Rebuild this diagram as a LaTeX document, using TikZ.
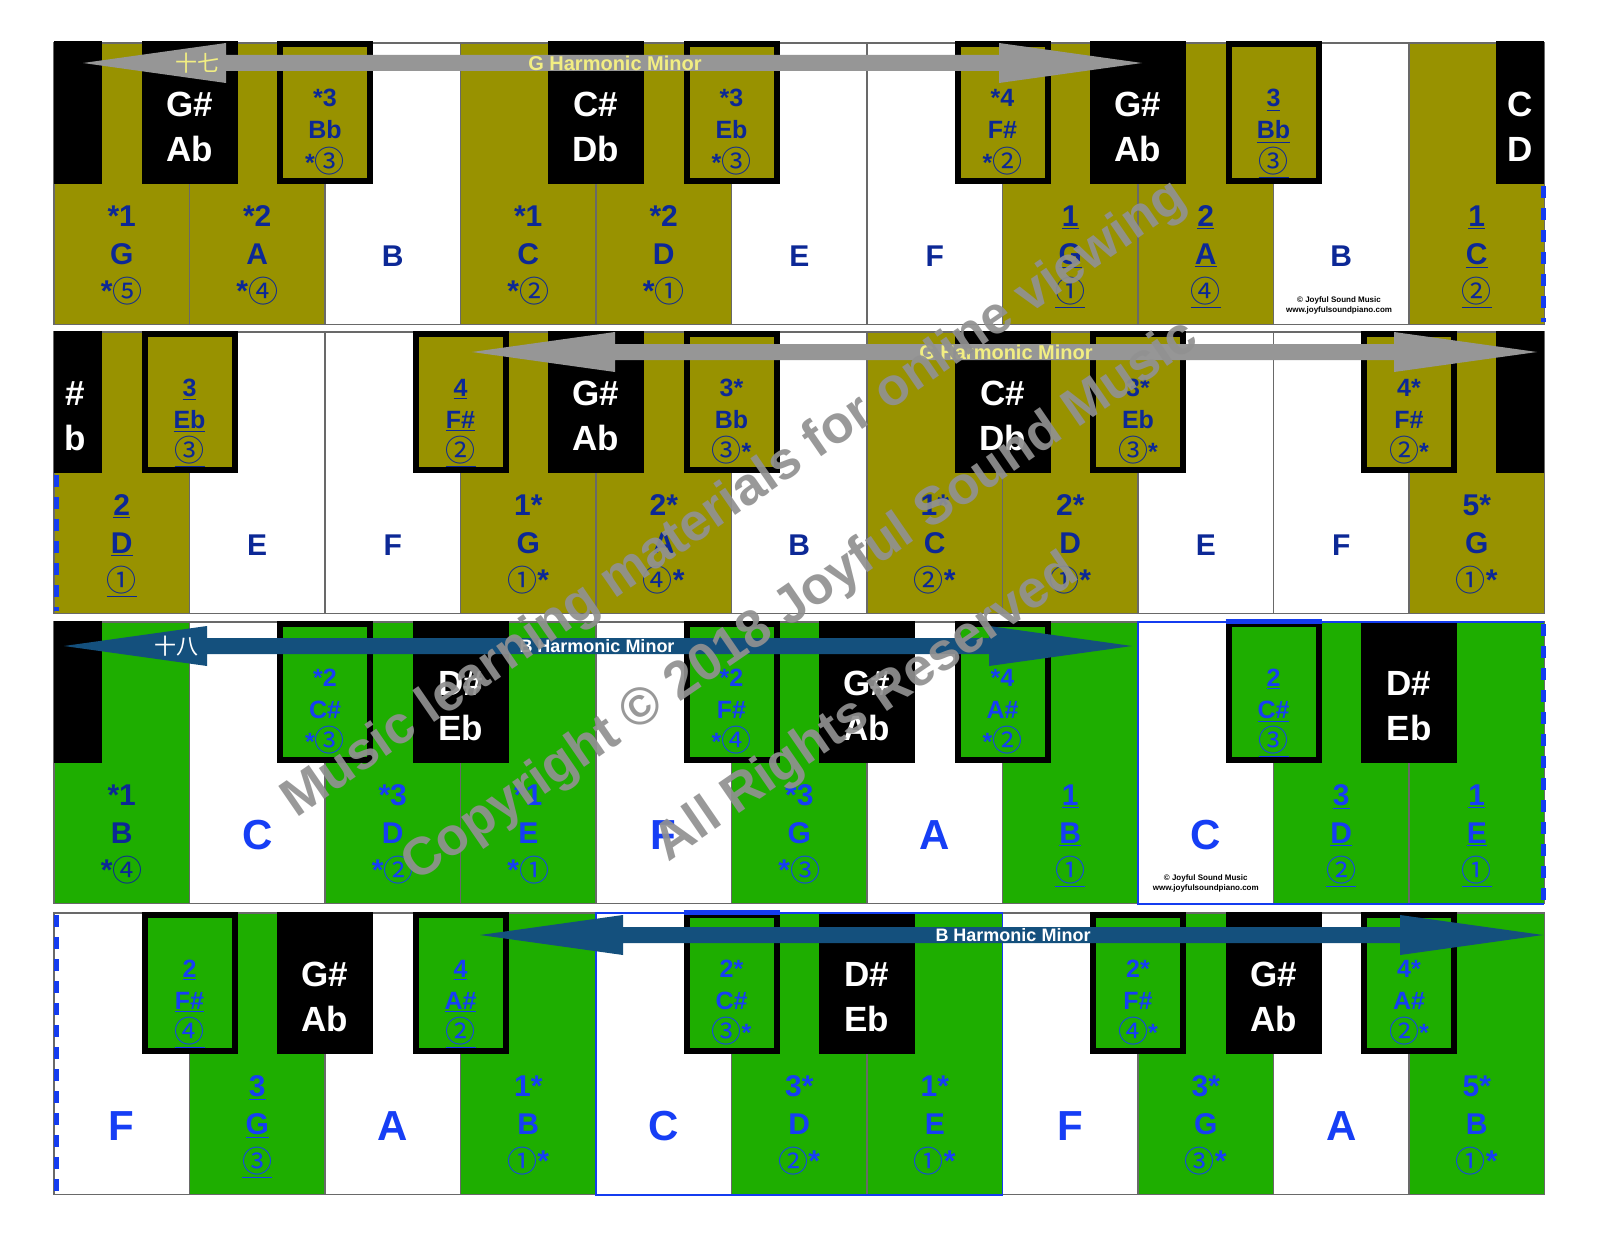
\documentclass[tikz,border=0pt]{standalone}
\usepackage{fontspec}
\setmainfont{Liberation Sans}
\newfontfamily\cfont{Noto Sans CJK SC}
\newfontfamily\cjkf{Noto Sans CJK SC}
\definecolor{olv}{RGB}{152,146,0}
\definecolor{grn}{RGB}{30,174,0}
\definecolor{nav}{RGB}{12,40,150}
\definecolor{bbl}{RGB}{22,62,245}
\definecolor{agr}{RGB}{150,150,150}
\definecolor{abl}{RGB}{20,80,125}
\definecolor{ylw}{RGB}{242,238,130}
\definecolor{kline}{RGB}{105,105,105}
\definecolor{dblue}{RGB}{20,60,240}
\definecolor{wmc}{RGB}{145,145,145}
\newcommand\cd[1]{{\cfont\mdseries\fontsize{15}{15}\selectfont\raisebox{-0.5pt}{#1}}}
\newcommand\pkW[3]{\path[draw=kline, line width=0.9pt, fill=#3] ({54+135.5*#2},#1) rectangle ({54+135.5*(#2+1)},{#1+281.5});}
\newcommand\pkB[2]{\fill[black] ({54+135.5*#2-48},{#1-1.5}) rectangle ({54+135.5*#2+48},{#1+141});}
\newcommand\pkO[3]{\path[fill=#3, draw=black, line width=3pt] ({54+135.5*#2-45},{#1+1.5}) rectangle ({54+135.5*#2+45},{#1+138});}
\newcommand\plW[7]{%
 \node[#4] (#1a) at ({121.75+135.5*#3},{#2+172}) {#5};
 \node[#4] (#1b) at ({121.75+135.5*#3},{#2+210}) {#6};
 \node[#4] (#1c) at ({121.75+135.5*#3},{#2+247}) {#7};}
\newcommand\plS[5]{\node[#4] (#1) at ({121.75+135.5*#3},{#2+212}) {#5};}
\newcommand\plB[5]{%
 \node[bl] (#1a) at ({54+135.5*#3},{#2+61}) {#4};
 \node[bl] (#1b) at ({54+135.5*#3},{#2+106}) {#5};}
\newcommand\plO[7]{%
 \node[#4] (#1a) at ({54+135.5*#3},{#2+55}) {#5};
 \node[#4] (#1b) at ({54+135.5*#3},{#2+87}) {#6};
 \node[#4] (#1c) at ({54+135.5*#3},{#2+119}) {#7};}
\newcommand\pbarr[4]{\fill[#4] (#2,#1) -- ({#2+143},{#1-20}) -- ({#2+143},{#1-8}) -- ({#3-143},{#1-8}) -- ({#3-143},{#1-20}) -- (#3,#1) -- ({#3-143},{#1+20}) -- ({#3-143},{#1+8}) -- ({#2+143},{#1+8}) -- ({#2+143},{#1+20}) -- cycle;}
\tikzset{
 wl/.style={inner sep=0pt, text height=11pt, text depth=0pt, font=\fontsize{15}{15}\selectfont\bfseries, text=nav},
 wlb/.style={wl, text=bbl},
 bl/.style={inner sep=0pt, text height=12.3pt, text depth=0pt, font=\fontsize{17.5}{17.5}\selectfont\bfseries, text=white},
 ol/.style={inner sep=0pt, text height=9pt, text depth=0pt, font=\fontsize{12.5}{12.5}\selectfont\bfseries, text=nav},
 olb/.style={ol, text=bbl},
 big/.style={inner sep=0pt, text height=15pt, text depth=0pt, font=\fontsize{21}{21}\selectfont\bfseries, text=bbl},
 arrt/.style={inner sep=0pt, font=\fontsize{10}{10}\selectfont\bfseries},
 cpy/.style={inner sep=0pt, align=center, font=\fontsize{4}{5}\selectfont\bfseries, text=black},
 dsh/.style={dblue, line width=2.5pt, dash pattern=on 6pt off 5pt},
 wm/.style={inner sep=0pt, rotate=34.5, text=wmc, text opacity=0.92, font=\fontsize{26.5}{26.5}\selectfont\bfseries},
}
\begin{document}
\begin{tikzpicture}[x=0.5pt,y=-0.5pt]
\useasboundingbox (0,0) rectangle (1600,1236);
\fill[white] (0,0) rectangle (1600,1236);
% ---------------- Row 1 ----------------
\foreach \f [count=\i from 0] in {olv,olv,white,olv,olv,white,white,olv,olv,white,olv} {\pkW{43}{\i}{\f}}
\fill[black] (54,41.5) rectangle (102,184);
\pkB{43}{1} \pkO{43}{2}{olv} \pkB{43}{4} \pkO{43}{5}{olv} \pkO{43}{7}{olv} \pkB{43}{8} \pkO{43}{9}{olv}
\fill[black] (1496,41.5) rectangle (1544,184);
\plW{ra0}{43}{0}{wl}{*1}{G}{*\cd{⑤}}
\plW{ra1}{43}{1}{wl}{*2}{A}{*\cd{④}}
\plS{ra2}{43}{2}{wl}{B}
\plW{ra3}{43}{3}{wl}{*1}{C}{*\cd{②}}
\plW{ra4}{43}{4}{wl}{*2}{D}{*\cd{①}}
\plS{ra5}{43}{5}{wl}{E}
\plS{ra6}{43}{6}{wl}{F}
\plW{ra7}{43}{7}{wl}{\underline{1}}{\underline{G}}{\underline{\cd{①}}}
\plW{ra8}{43}{8}{wl}{\underline{2}}{\underline{A}}{\underline{\cd{④}}}
\plS{ra9}{43}{9}{wl}{B}
\plW{ra10}{43}{10}{wl}{\underline{1}}{\underline{C}}{\underline{\cd{②}}}
\plB{rab1}{43}{1}{G\#}{Ab}
\plO{rab2}{43}{2}{ol}{*3}{Bb}{*\cd{③}}
\plB{rab4}{43}{4}{C\#}{Db}
\plO{rab5}{43}{5}{ol}{*3}{Eb}{*\cd{③}}
\plO{rab7}{43}{7}{ol}{*4}{F\#}{*\cd{②}}
\plB{rab8}{43}{8}{G\#}{Ab}
\plO{rab9}{43}{9}{ol}{\underline{3}}{\underline{Bb}}{\underline{\cd{③}}}
\node[bl] (rabr1) at (1520,104) {C};
\node[bl] (rabr2) at (1520,149) {D};
\node[cpy] (cp1) at (1339,305) {© Joyful Sound Music\\www.joyfulsoundpiano.com};
\draw[dsh] (1543,186) -- (1543,322);
% ---------------- Row 2 ----------------
\foreach \f [count=\i from 0] in {olv,white,white,olv,olv,white,olv,olv,white,white,olv} {\pkW{332}{\i}{\f}}
\fill[black] (54,330.5) rectangle (102,473);
\pkO{332}{1}{olv} \pkO{332}{3}{olv} \pkB{332}{4} \pkO{332}{5}{olv} \pkB{332}{7} \pkO{332}{8}{olv} \pkO{332}{10}{olv}
\fill[black] (1496,330.5) rectangle (1544,473);
\node[bl] (rbbl1) at (75,393) {\#};
\node[bl] (rbbl2) at (75,438) {b};
\plW{rb0}{332}{0}{wl}{\underline{2}}{\underline{D}}{\underline{\cd{①}}}
\plS{rb1}{332}{1}{wl}{E}
\plS{rb2}{332}{2}{wl}{F}
\plW{rb3}{332}{3}{wl}{1*}{G}{\cd{①}*}
\plW{rb4}{332}{4}{wl}{2*}{A}{\cd{④}*}
\plS{rb5}{332}{5}{wl}{B}
\plW{rb6}{332}{6}{wl}{1*}{C}{\cd{②}*}
\plW{rb7}{332}{7}{wl}{2*}{D}{\cd{①}*}
\plS{rb8}{332}{8}{wl}{E}
\plS{rb9}{332}{9}{wl}{F}
\plW{rb10}{332}{10}{wl}{5*}{G}{\cd{①}*}
\plO{rbb1}{332}{1}{ol}{\underline{3}}{\underline{Eb}}{\underline{\cd{③}}}
\plO{rbb3}{332}{3}{ol}{\underline{4}}{\underline{F\#}}{\underline{\cd{②}}}
\plB{rbb4}{332}{4}{G\#}{Ab}
\plO{rbb5}{332}{5}{ol}{3*}{Bb}{\cd{③}*}
\plB{rbb7}{332}{7}{C\#}{Db}
\plO{rbb8}{332}{8}{ol}{3*}{Eb}{\cd{③}*}
\plO{rbb10}{332}{10}{ol}{4*}{F\#}{\cd{②}*}
\draw[dsh] (56,475) -- (56,611);
% ---------------- Row 3 ----------------
\foreach \f [count=\i from 0] in {grn,white,grn,grn,white,grn,white,grn,white,grn,grn} {\pkW{622}{\i}{\f}}
\fill[black] (54,620.5) rectangle (102,763);
\pkO{622}{2}{grn} \pkB{622}{3} \pkO{622}{5}{grn} \pkB{622}{6} \pkO{622}{7}{grn} \pkO{622}{9}{grn} \pkB{622}{10}
\plW{rc0}{622}{0}{wl}{*1}{B}{*\cd{④}}
\plS{rc1}{622}{1}{big}{C}
\plW{rc2}{622}{2}{wlb}{*3}{D}{*\cd{②}}
\plW{rc3}{622}{3}{wlb}{*1}{E}{*\cd{①}}
\plS{rc4}{622}{4}{big}{F}
\plW{rc5}{622}{5}{wlb}{*3}{G}{*\cd{③}}
\plS{rc6}{622}{6}{big}{A}
\plW{rc7}{622}{7}{wlb}{\underline{1}}{\underline{B}}{\underline{\cd{①}}}
\plS{rc8}{622}{8}{big}{C}
\plW{rc9}{622}{9}{wlb}{\underline{3}}{\underline{D}}{\underline{\cd{②}}}
\plW{rc10}{622}{10}{wlb}{\underline{1}}{\underline{E}}{\underline{\cd{①}}}
\plO{rcb2}{622}{2}{olb}{*2}{C\#}{*\cd{③}}
\plB{rcb3}{622}{3}{D\#}{Eb}
\plO{rcb5}{622}{5}{olb}{*2}{F\#}{*\cd{④}}
\plB{rcb6}{622}{6}{G\#}{Ab}
\plO{rcb7}{622}{7}{olb}{*4}{A\#}{*\cd{②}}
\plO{rcb9}{622}{9}{olb}{\underline{2}}{\underline{C\#}}{\underline{\cd{③}}}
\plB{rcb10}{622}{10}{D\#}{Eb}
\node[cpy] (cp2) at (1205.75,883) {© Joyful Sound Music\\www.joyfulsoundpiano.com};
\draw[dblue, line width=0.6pt] (1544,622) -- (1138,622) -- (1138,904) -- (1544,904);
\draw[dblue, line width=2.5pt] (1225.5,621.5) -- (1321.5,621.5);
\draw[dsh] (1543,624) -- (1543,902);
% ---------------- Row 4 ----------------
\foreach \f [count=\i from 0] in {white,grn,white,grn,white,grn,grn,white,grn,white,grn} {\pkW{913}{\i}{\f}}
\pkO{913}{1}{grn} \pkB{913}{2} \pkO{913}{3}{grn} \pkO{913}{5}{grn} \pkB{913}{6} \pkO{913}{8}{grn} \pkB{913}{9} \pkO{913}{10}{grn}
\plS{rd0}{913}{0}{big}{F}
\plW{rd1}{913}{1}{wlb}{\underline{3}}{\underline{G}}{\underline{\cd{③}}}
\plS{rd2}{913}{2}{big}{A}
\plW{rd3}{913}{3}{wlb}{1*}{B}{\cd{①}*}
\plS{rd4}{913}{4}{big}{C}
\plW{rd5}{913}{5}{wlb}{3*}{D}{\cd{②}*}
\plW{rd6}{913}{6}{wlb}{1*}{E}{\cd{①}*}
\plS{rd7}{913}{7}{big}{F}
\plW{rd8}{913}{8}{wlb}{3*}{G}{\cd{③}*}
\plS{rd9}{913}{9}{big}{A}
\plW{rd10}{913}{10}{wlb}{5*}{B}{\cd{①}*}
\plO{rdb1}{913}{1}{olb}{\underline{2}}{\underline{F\#}}{\underline{\cd{④}}}
\plB{rdb2}{913}{2}{G\#}{Ab}
\plO{rdb3}{913}{3}{olb}{\underline{4}}{\underline{A\#}}{\underline{\cd{②}}}
\plO{rdb5}{913}{5}{olb}{2*}{C\#}{\cd{③}*}
\plB{rdb6}{913}{6}{D\#}{Eb}
\plO{rdb8}{913}{8}{olb}{2*}{F\#}{\cd{④}*}
\plB{rdb9}{913}{9}{G\#}{Ab}
\plO{rdb10}{913}{10}{olb}{4*}{A\#}{\cd{②}*}
\draw[dblue, line width=0.6pt] (596,913) rectangle (1002.5,1195);
\draw[dblue, line width=2.5pt] (683.5,912.5) -- (779.5,912.5);
\draw[dsh] (56,915) -- (56,1193);
% ---------------- Arrows ----------------
\pbarr{63}{83}{1142}{agr}
\pbarr{352}{472}{1537}{agr}
\pbarr{646}{64}{1132}{abl}
\pbarr{935}{480}{1543}{abl}
\node[arrt, text=ylw] (ta) at (615,63) {G Harmonic Minor};
\node[arrt, text=ylw] (tb) at (1006,352) {G Harmonic Minor};
\node[arrt, font=\fontsize{9}{9}\selectfont\bfseries, text=white] (tc) at (597,646) {B Harmonic Minor};
\node[arrt, font=\fontsize{9}{9}\selectfont\bfseries, text=white] (td) at (1013,935) {B Harmonic Minor};
\node[inner sep=0pt, font=\cjkf\fontsize{11}{11}\selectfont, text=ylw] (ca) at (197,63) {十七};
\node[inner sep=0pt, font=\cjkf\fontsize{11}{11}\selectfont, text=white] (cb) at (176,646) {十八};
% ---------------- Watermark ----------------
\node[wm] (wm1) at (735,500) {Music learning materials for online viewing};
\node[wm] (wm2) at (801,602) {Copyright © 2018 Joyful Sound Music};
\node[wm] (wm3) at (867,709) {All Rights Reserved};
\end{tikzpicture}
\end{document}
